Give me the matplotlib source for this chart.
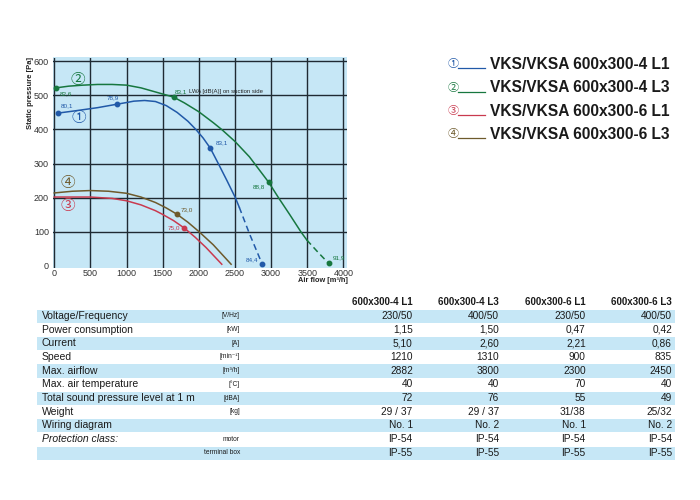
import matplotlib
matplotlib.use("Agg")
import matplotlib.pyplot as plt
from matplotlib.patches import Rectangle

plt.rcParams["font.family"] = ["Liberation Sans", "DejaVu Sans"]

# fan curves (air flow m3/h, static pressure Pa)
c1_x = [50, 300, 600, 865, 1000, 1100, 1250, 1400, 1550, 1700, 1850, 1960, 2060, 2160, 2270, 2390, 2506, 2560]
c1_y = [448, 455, 464, 474, 479, 483, 485, 482, 470, 450, 424, 400, 375, 345, 300, 250, 200, 172]
c1_dash_x = [2560, 2700, 2876]
c1_dash_y = [172, 95, 6]

c2_x = [24, 200, 400, 600, 800, 1000, 1200, 1400, 1650, 1800, 2000, 2200, 2317, 2500, 2700, 2968, 3103, 3260, 3413, 3495]
c2_y = [522, 527, 530, 532, 532, 530, 522, 510, 495, 478, 452, 420, 400, 365, 320, 245, 200, 150, 100, 76]
c2_dash_x = [3495, 3650, 3795]
c2_dash_y = [76, 40, 8]

c3_x = [0, 250, 500, 800, 1000, 1200, 1400, 1500, 1650, 1800, 1950, 2100, 2318]
c3_y = [202, 202, 202, 198, 191, 179, 162, 151, 133, 111, 84, 54, 5]

c4_x = [0, 250, 500, 750, 1000, 1200, 1400, 1550, 1695, 1850, 2000, 2200, 2447]
c4_y = [214, 219, 221, 219, 213, 202, 186, 170, 152, 128, 101, 62, 5]

# sound power points: (x, y, label)
pts1 = [(50, 448, "80,1"), (865, 474, "78,9"), (2160, 345, "83,1"), (2876, 6, "84,4")]
pts2 = [(24, 522, "82,6"), (1650, 495, "83,1"), (2968, 245, "88,8"), (3795, 8, "91,9")]
pts3 = [(1800, 111, "75,0")]
pts4 = [(1695, 152, "73,0")]

colors = ["#2159a8", "#17773f", "#c93a4f", "#6e5a2c"]
models = ["VKS/VKSA 600x300-4 L1", "VKS/VKSA 600x300-4 L3",
          "VKS/VKSA 600x300-6 L1", "VKS/VKSA 600x300-6 L3"]
circled = ["\u2460", "\u2461", "\u2462", "\u2463"]

x_ticks = [0, 500, 1000, 1500, 2000, 2500, 3000, 3500, 4000]
y_ticks = [100, 200, 300, 400, 500, 600]

# table
col_heads = ["600x300-4 L1", "600x300-4 L3", "600x300-6 L1", "600x300-6 L3"]
row_labels = ["Voltage/Frequency", "Power consumption", "Current", "Speed", "Max. airflow",
              "Max. air temperature", "Total sound pressure level at 1 m", "Weight",
              "Wiring diagram", "Protection class:", ""]
row_units = ["[V/Hz]", "[kW]", "[A]", "[min\u207b\u00b9]", "[m\u00b3/h]", "[\u00b0C]", "[dBA]", "[kg]",
             "", "motor", "terminal box"]
col1 = ["230/50", "1,15", "5,10", "1210", "2882", "40", "72", "29 / 37", "No. 1", "IP-54", "IP-55"]
col2 = ["400/50", "1,50", "2,60", "1310", "3800", "40", "76", "29 / 37", "No. 2", "IP-54", "IP-55"]
col3 = ["230/50", "0,47", "2,21", "900", "2300", "70", "55", "31/38", "No. 1", "IP-54", "IP-55"]
col4 = ["400/50", "0,42", "0,86", "835", "2450", "40", "49", "25/32", "No. 2", "IP-54", "IP-55"]

W, H = 700, 500
fig = plt.figure(figsize=(7, 5), dpi=100)
fig.patch.set_facecolor("white")

ax = fig.add_axes([53.2 / W, 1 - 268.0 / H, (347.3 - 53.2) / W, (268.0 - 57.5) / H])
ax.set_facecolor("#c6e7f6")
ax.set_xlim(-15, 4055)
ax.set_ylim(-6, 611)
for s in ax.spines.values():
    s.set_visible(False)
for x in x_ticks:
    ax.axvline(x, color="#1f2a33", lw=1.0, zorder=1)
for y in y_ticks:
    ax.axhline(y, color="#1f2a33", lw=1.0, zorder=1)
ax.set_xticks(x_ticks)
ax.set_yticks([0] + y_ticks)
ax.tick_params(length=0, labelsize=6.5, labelcolor="#333333")
ax.tick_params(axis="x", pad=0.8)
ax.tick_params(axis="y", pad=3)

lw = 1.1
ax.plot(c1_x, c1_y, color=colors[0], lw=lw, zorder=3)
ax.plot(c1_dash_x, c1_dash_y, color=colors[0], lw=lw, ls=(0, (4, 2.5)), zorder=3)
ax.plot(c2_x, c2_y, color=colors[1], lw=lw, zorder=3)
ax.plot(c2_dash_x, c2_dash_y, color=colors[1], lw=lw, ls=(0, (4, 2.5)), zorder=3)
ax.plot(c3_x, c3_y, color=colors[2], lw=lw, zorder=3)
ax.plot(c4_x, c4_y, color=colors[3], lw=lw, zorder=3)

label_offsets = {
    (0, 0): (2, 5, "left"), (0, 1): (-3, 5, "center"), (0, 2): (4, 4, "left"), (0, 3): (-3, 3, "right"),
    (1, 0): (3, -4, "left"), (1, 1): (1, 4, "left"), (1, 2): (-3, -3, "right"), (1, 3): (3, 4, "left"),
    (2, 0): (-3, 0, "right"), (3, 0): (3, 3, "left"),
}
for ci, pts in enumerate([pts1, pts2, pts3, pts4]):
    for pi, (px, py, lab) in enumerate(pts):
        ax.plot(px, py, marker="o", ms=3.2, color=colors[ci], zorder=4)
        dx, dy, ha = label_offsets[(ci, pi)]
        ax.annotate(lab, (px, py), xytext=(dx, dy), textcoords="offset points",
                    ha=ha, va="center", fontsize=4.6, color=colors[ci], zorder=5)
ax.annotate("LWA [dB(A)] on suction side", (1650, 495), xytext=(11, 4), textcoords="offset points",
            ha="left", va="center", fontsize=4.3, color="#222222", zorder=5)

circ_pos = [(343, 435), (319, 546), (185, 177), (185, 244)]
for i, (cx, cy) in enumerate(circ_pos):
    ax.text(cx, cy, circled[i], color=colors[i], fontsize=10.5, ha="center", va="center",
            family=["Noto Sans CJK JP", "DejaVu Sans"], zorder=5)

fig.text(30.7 / W, 1 - 57 / H, "Static pressure [Pa]", rotation=90, ha="center", va="top",
         fontsize=5.5, fontweight="bold", color="#222222")
fig.text(348 / W, 1 - 281 / H, "Air flow [m\u00b3/h]", ha="right", va="center",
         fontsize=5.3, fontweight="bold", color="#222222")

# legend at the right
leg_rows = [64.3, 87.7, 111, 134.3]
for i, yy in enumerate(leg_rows):
    fy = 1 - yy / H
    fig.text(453 / W, fy, circled[i], color=colors[i], fontsize=8, ha="center", va="center",
             family=["Noto Sans CJK JP", "DejaVu Sans"])
    fig.add_artist(plt.Line2D([458 / W, 485 / W], [fy - 4 / H, fy - 4 / H], color=colors[i], lw=0.9))
    fig.text(490 / W, fy, models[i], fontsize=11.2, fontweight="bold", ha="left", va="center",
             color="#1a1a1a")

# spec table
row_top = 309.0
row_h = 13.7
col_right = [412.7, 499, 585.7, 672]
for j, head in enumerate(col_heads):
    fig.text(col_right[j] / W, 1 - 301.7 / H, head, fontsize=7, fontweight="bold", ha="right",
             va="center", color="#1a1a1a")
columns = [col1, col2, col3, col4]
for r in range(len(row_labels)):
    y0 = row_top + r * row_h
    yc = 1 - (y0 + row_h / 2) / H
    if r % 2 == 0:
        fig.add_artist(Rectangle((37 / W, 1 - (y0 + row_h) / H), (675 - 37) / W, (row_h - 0.6) / H,
                                 transform=fig.transFigure, facecolor="#c6e7f6", edgecolor="none"))
    style = "italic" if row_labels[r].startswith("Protection") else "normal"
    fig.text(41.7 / W, yc, row_labels[r], fontsize=7.5, style=style, ha="left", va="center",
             color="#1a1a1a")
    fig.text(240 / W, yc, row_units[r], fontsize=4.8, ha="right", va="center", color="#1a1a1a")
    for j, col in enumerate(columns):
        fig.text(col_right[j] / W, yc, col[r], fontsize=7.3, ha="right", va="center", color="#1a1a1a")

fig.savefig("out.png", dpi=100)
